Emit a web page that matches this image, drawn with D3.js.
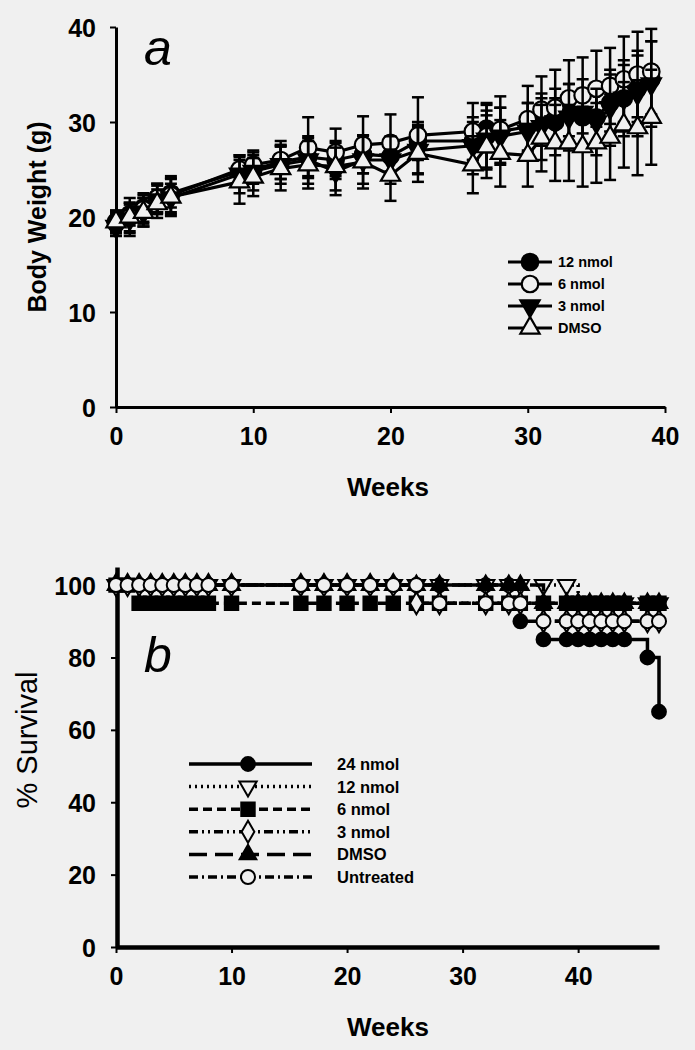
<!DOCTYPE html>
<html><head><meta charset="utf-8">
<script src="https://cdn.jsdelivr.net/npm/d3@7/dist/d3.min.js"></script>
<style>
body{margin:0;background:#f0f0f0;}
svg{display:block;}
text{font-family:"Liberation Sans",Arial,sans-serif;fill:#000;}
</style></head><body>
<svg id="c" width="695" height="1050"></svg>
<script>
// ---------- Panel a: body weight ----------
const weightWeeks = [0,1,2,3,4,9,10,12,14,16,18,20,22,26,27,28,30,31,32,33,34,35,36,37,38,39];
const bw12 = [19.5,20.3,21.0,22.0,22.5,24.8,25.0,25.8,26.3,26.0,26.6,26.4,28.0,28.0,29.3,29.0,29.5,30.0,30.0,31.0,30.5,30.5,32.0,32.5,33.5,34.5];
const bw12Err = [1.0,1.2,1.5,1.5,1.5,1.5,1.5,1.8,2.0,2.0,2.0,2.0,2.0,2.0,2.5,2.5,2.5,2.5,2.5,3.0,3.0,3.0,3.0,3.5,3.5,4.0];
const bw6 = [19.3,20.0,20.8,22.0,22.3,25.0,25.5,26.0,27.3,26.8,27.6,27.8,28.6,29.0,28.5,29.2,30.3,31.3,31.5,32.5,32.8,33.5,33.8,34.5,35.0,35.3];
const bw6Err = [1.0,1.5,1.5,1.5,2.0,1.5,1.5,2.0,3.2,2.5,3.0,3.0,4.0,3.0,3.5,3.5,3.5,3.5,4.0,4.0,4.0,4.0,4.0,4.5,4.5,4.5];
const bw3 = [19.0,19.8,20.5,21.8,22.0,24.5,24.8,25.5,26.0,24.8,26.0,26.0,27.0,27.5,28.2,28.5,29.0,29.5,30.0,30.5,31.0,30.0,31.5,32.5,33.0,34.0];
const bw3Err = [1.0,1.5,1.5,1.5,1.5,2.0,2.0,2.0,2.5,2.5,2.5,2.5,2.5,3.0,3.0,3.0,3.0,3.5,3.5,3.5,3.5,3.5,4.0,4.0,4.5,4.5];
const bwDMSO = [19.5,20.0,20.5,21.4,22.1,23.7,24.2,25.1,25.5,25.3,25.8,24.4,26.7,25.5,27.4,26.7,26.5,28.3,27.8,27.8,27.4,27.8,28.4,29.7,29.4,30.5];
const bwDMSOErr = [1.2,2.0,1.5,1.5,2.0,2.3,2.0,2.3,2.5,2.5,2.8,2.7,3.0,3.0,3.3,3.5,3.3,3.5,4.0,4.0,4.2,4.2,4.5,4.5,5.0,5.0];
const weightNames = ["12 nmol","6 nmol","3 nmol","DMSO"];
const weightTicksX = [0,10,20,30,40];
const weightTicksY = [0,10,20,30,40];

// ---------- Panel b: survival ----------
const survWeeks = [0,1,2,3,4,5,6,7,8,10,16,18,20,22,24,26,28,32,34,35,37,39,40,41,42,43,44,46,47];
const surv24 = [100,100,100,100,100,100,100,100,100,100,100,100,100,100,100,100,100,100,100,90,85,85,85,85,85,85,85,80,65];
const surv12 = [100,100,100,100,100,100,100,100,100,100,100,100,100,100,100,100,100,100,100,100,100,100,95,95,95,95,95,95,95];
const surv6  = [100,100,95,95,95,95,95,95,95,95,95,95,95,95,95,95,95,95,95,95,95,95,95,95,95,95,95,95,95];
const surv3  = [100,100,100,100,100,100,100,100,100,100,100,100,100,100,100,95,95,95,95,95,90,90,90,90,90,90,90,90,90];
const survDMSO = [100,100,100,100,100,100,100,100,100,100,100,100,100,100,100,100,100,100,100,100,95,95,95,95,95,95,95,95,95];
const survUnt = [100,100,100,100,100,100,100,100,100,100,100,100,100,100,100,100,95,95,95,95,90,90,90,90,90,90,90,90,90];
const survNames = ["24 nmol","12 nmol","6 nmol","3 nmol","DMSO","Untreated"];
const survTicksX = [0,10,20,30,40];
const survTicksY = [0,20,40,60,80,100];

const BG = "#f0f0f0";
const svg = d3.select("#c");
svg.append("rect").attr("width",695).attr("height",1050).attr("fill",BG);

function styleAxis(g, w){
  g.select(".domain").attr("stroke","#000").attr("stroke-width",w);
  g.selectAll(".tick line").attr("stroke","#000").attr("stroke-width",2);
  g.selectAll(".tick text").attr("font-size",25).attr("font-weight","bold")
    .attr("font-family","'Liberation Sans',Arial,sans-serif").attr("fill","#000");
}

// ===== Panel a =====
const xA = d3.scaleLinear().domain([0,40]).range([116,665]);
const yA = d3.scaleLinear().domain([0,40]).range([407,27]);
const gA = svg.append("g");

const gxA = gA.append("g").attr("transform","translate(0,407)")
  .call(d3.axisBottom(xA).tickValues(weightTicksX).tickSize(6).tickSizeOuter(0).tickPadding(14));
styleAxis(gxA,3);
const gyA = gA.append("g").attr("transform","translate(116,0)")
  .call(d3.axisLeft(yA).tickValues(weightTicksY).tickSize(6).tickSizeOuter(0).tickPadding(14));
styleAxis(gyA,3);
gyA.selectAll(".tick text").attr("dy","0.36em");

gA.append("text").attr("x",388).attr("y",496).attr("text-anchor","middle")
  .attr("font-size",26).attr("font-weight","bold").text("Weeks");
gA.append("text").attr("transform","translate(46,217) rotate(-90)").attr("text-anchor","middle")
  .attr("font-size",25).attr("font-weight","bold").text("Body Weight (g)");
gA.append("text").attr("x",144).attr("y",65).attr("font-size",50).attr("font-style","italic").text("a");

const symA = {
  circle: d3.symbol(d3.symbolCircle,215)(),
  tri: d3.symbol(d3.symbolTriangle,160)()
};
const weightSeries = [
  {name:weightNames[0], v:bw12, e:bw12Err, sym:symA.circle, rot:0, fill:"#000"},
  {name:weightNames[1], v:bw6, e:bw6Err, sym:symA.circle, rot:0, fill:BG},
  {name:weightNames[2], v:bw3, e:bw3Err, sym:symA.tri, rot:180, fill:"#000"},
  {name:weightNames[3], v:bwDMSO, e:bwDMSOErr, sym:symA.tri, rot:0, fill:BG}
];
const lineA = d3.line().x(d=>xA(d[0])).y(d=>yA(d[1]));
weightSeries.forEach(s=>{
  const pts = weightWeeks.map((w,i)=>[w,s.v[i],s.e[i]]);
  const g = gA.append("g");
  pts.forEach(p=>{
    const x = xA(p[0]), y1 = yA(p[1]+p[2]), y0 = yA(p[1]-p[2]);
    g.append("line").attr("x1",x).attr("x2",x).attr("y1",y1).attr("y2",y0).attr("stroke","#000").attr("stroke-width",2.5);
    g.append("line").attr("x1",x-6).attr("x2",x+6).attr("y1",y1).attr("y2",y1).attr("stroke","#000").attr("stroke-width",2.5);
    g.append("line").attr("x1",x-6).attr("x2",x+6).attr("y1",y0).attr("y2",y0).attr("stroke","#000").attr("stroke-width",2.5);
  });
  g.append("path").datum(pts).attr("d",lineA).attr("fill","none").attr("stroke","#000").attr("stroke-width",3.2);
  g.selectAll("path.m").data(pts).enter().append("path").attr("class","m")
    .attr("d",s.sym).attr("transform",d=>`translate(${xA(d[0])},${yA(d[1])}) rotate(${s.rot})`)
    .attr("fill",s.fill).attr("stroke","#000").attr("stroke-width",2.2);
});
// legend a
const legA = gA.append("g");
weightSeries.forEach((s,i)=>{
  const y = 262 + i*22;
  legA.append("line").attr("x1",508).attr("x2",552).attr("y1",y).attr("y2",y).attr("stroke","#000").attr("stroke-width",3);
  legA.append("path").attr("d",s.sym).attr("transform",`translate(530,${y}) rotate(${s.rot})`)
    .attr("fill",s.fill).attr("stroke","#000").attr("stroke-width",2.2);
  legA.append("text").attr("x",558).attr("y",y+5).attr("font-size",14.5).attr("font-weight","bold").text(s.name);
});

// ===== Panel b =====
const xB = d3.scaleLinear().domain([0,47]).range([116,659]);
const yB = d3.scaleLinear().domain([0,105]).range([947,567]);
const gB = svg.append("g");
const gxB = gB.append("g").attr("transform","translate(0,947)")
  .call(d3.axisBottom(xB).tickValues(survTicksX).tickSize(6).tickSizeOuter(0).tickPadding(14));
styleAxis(gxB,4.5);
const gyB = gB.append("g").attr("transform","translate(117,0)")
  .call(d3.axisLeft(yB).tickValues(survTicksY).tickSize(6).tickSizeOuter(0).tickPadding(15));
styleAxis(gyB,4.5);
gyB.selectAll(".tick text").attr("dy","0.36em");

gB.append("text").attr("x",388).attr("y",1036).attr("text-anchor","middle")
  .attr("font-size",26).attr("font-weight","bold").text("Weeks");
gB.append("text").attr("transform","translate(37,740) rotate(-90)").attr("text-anchor","middle")
  .attr("font-size",29).text("% Survival");
gB.append("text").attr("x",144).attr("y",672).attr("font-size",50).attr("font-style","italic").text("b");

const survSeries = [
  {name:survNames[0], v:surv24, dash:null, sym:d3.symbol(d3.symbolCircle,150)(), rot:0, fill:"#000"},
  {name:survNames[1], v:surv12, dash:"2,4", sym:d3.symbol(d3.symbolTriangle,130)(), rot:180, fill:BG},
  {name:survNames[2], v:surv6, dash:"9,5", sym:d3.symbol(d3.symbolSquare,180)(), rot:0, fill:"#000"},
  {name:survNames[3], v:surv3, dash:"9,4,2,4,2,4", sym:d3.symbol(d3.symbolDiamond,140)(), rot:0, fill:BG},
  {name:survNames[4], v:survDMSO, dash:"18,8", sym:d3.symbol(d3.symbolTriangle,120)(), rot:0, fill:"#000"},
  {name:survNames[5], v:survUnt, dash:"9,4,2,4", sym:d3.symbol(d3.symbolCircle,155)(), rot:0, fill:BG}
];
const lineB = d3.line().x(d=>xB(d[0])).y(d=>yB(d[1])).curve(d3.curveStepAfter);
survSeries.forEach(s=>{
  const pts = survWeeks.map((w,i)=>[w,s.v[i]]);
  const g = gB.append("g");
  const p = g.append("path").datum(pts).attr("d",lineB).attr("fill","none").attr("stroke","#000").attr("stroke-width",3.5);
  if(s.dash) p.attr("stroke-dasharray",s.dash);
  g.selectAll("path.m").data(pts).enter().append("path").attr("class","m")
    .attr("d",s.sym).attr("transform",d=>`translate(${xB(d[0])},${yB(d[1])}) rotate(${s.rot})`)
    .attr("fill",s.fill).attr("stroke","#000").attr("stroke-width",2);
});
// legend b
const legB = gB.append("g");
survSeries.forEach((s,i)=>{
  const y = 764 + i*22.6;
  const l = legB.append("line").attr("x1",189).attr("x2",312).attr("y1",y).attr("y2",y).attr("stroke","#000").attr("stroke-width",3.5);
  if(s.dash) l.attr("stroke-dasharray",s.dash);
  legB.append("path").attr("d",s.sym).attr("transform",`translate(248,${y}) rotate(${s.rot})`)
    .attr("fill",s.fill).attr("stroke","#000").attr("stroke-width",2);
  legB.append("text").attr("x",337).attr("y",y+6).attr("font-size",16.5).attr("font-weight","bold").text(s.name);
});
</script>
</body></html>
